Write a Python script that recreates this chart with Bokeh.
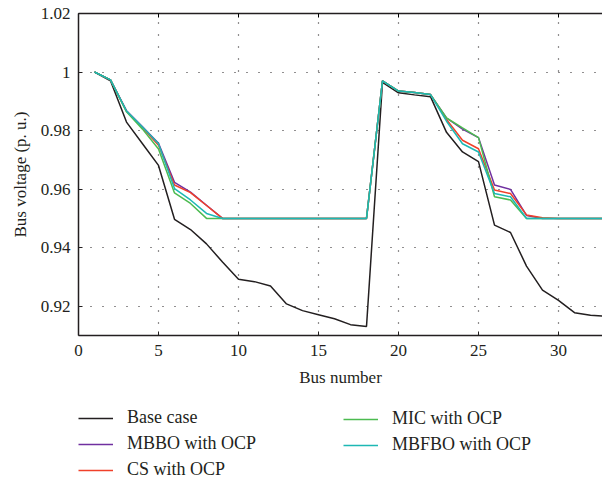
from bokeh.plotting import figure
from bokeh.models import (Range1d, FixedTicker, LinearAxis, Legend, LegendItem)
from bokeh.layouts import column
from bokeh.embed import file_html
from bokeh.resources import INLINE

bus = list(range(1, 34))

base_case = [1.0000, 0.9970, 0.9829, 0.9755, 0.9681, 0.9497, 0.9462, 0.9413, 0.9351,
             0.9292, 0.9284, 0.9269, 0.9208, 0.9185, 0.9171, 0.9157, 0.9137, 0.9131,
             0.9965, 0.9929, 0.9922, 0.9916, 0.9794, 0.9727, 0.9694, 0.9477, 0.9452,
             0.9337, 0.9255, 0.9220, 0.9178, 0.9169, 0.9166]
mbbo = [1.0000, 0.9973, 0.9868, 0.9813, 0.9757, 0.9623, 0.9590, 0.9545, 0.9500,
        0.9500, 0.9500, 0.9500, 0.9500, 0.9500, 0.9500, 0.9500, 0.9500, 0.9500,
        0.9970, 0.9935, 0.9930, 0.9923, 0.9843, 0.9805, 0.9776, 0.9614, 0.9599,
        0.9510, 0.9500, 0.9500, 0.9500, 0.9500, 0.9500]
cs = [1.0000, 0.9973, 0.9866, 0.9810, 0.9750, 0.9614, 0.9588, 0.9544, 0.9500,
      0.9500, 0.9500, 0.9500, 0.9500, 0.9500, 0.9500, 0.9500, 0.9500, 0.9500,
      0.9970, 0.9935, 0.9930, 0.9923, 0.9838, 0.9767, 0.9738, 0.9597, 0.9585,
      0.9512, 0.9502, 0.9500, 0.9500, 0.9500, 0.9500]
mic = [1.0000, 0.9973, 0.9864, 0.9805, 0.9737, 0.9587, 0.9551, 0.9500, 0.9500,
       0.9500, 0.9500, 0.9500, 0.9500, 0.9500, 0.9500, 0.9500, 0.9500, 0.9500,
       0.9970, 0.9935, 0.9930, 0.9923, 0.9843, 0.9809, 0.9776, 0.9574, 0.9563,
       0.9500, 0.9500, 0.9500, 0.9500, 0.9500, 0.9500]
mbfbo = [1.0000, 0.9973, 0.9867, 0.9812, 0.9755, 0.9602, 0.9563, 0.9517, 0.9500,
         0.9500, 0.9500, 0.9500, 0.9500, 0.9500, 0.9500, 0.9500, 0.9500, 0.9500,
         0.9970, 0.9935, 0.9930, 0.9923, 0.9832, 0.9755, 0.9727, 0.9585, 0.9574,
         0.9500, 0.9500, 0.9500, 0.9500, 0.9500, 0.9500]

series_names = ["Base case", "MBBO with OCP", "CS with OCP", "MIC with OCP", "MBFBO with OCP"]
series_values = [base_case, mbbo, cs, mic, mbfbo]
series_colors = ["#231f20", "#7030a0", "#f0402a", "#4cbb50", "#1db8b4"]

x_ticks = [0, 5, 10, 15, 20, 25, 30]
y_ticks = [0.92, 0.94, 0.96, 0.98, 1.0, 1.02]
y_tick_labels = {0.92: "0.92", 0.94: "0.94", 0.96: "0.96", 0.98: "0.98", 1.0: "1", 1.02: "1.02"}

FONT = "Liberation Serif"
LEG_FONT = "'Liberation Serif', 'Times New Roman', serif"
TXT = "#231f20"

p = figure(width=602, height=405, output_backend="svg", toolbar_location=None,
           x_range=Range1d(0, 32.75), y_range=Range1d(0.91, 1.02),
           min_border_left=78, min_border_right=0, min_border_top=13, min_border_bottom=70)
p.outline_line_color = None
p.background_fill_color = "white"
p.border_fill_color = "white"

for name, vals, col in zip(series_names, series_values, series_colors):
    p.line(bus, vals, line_color=col, line_width=1.5)

for ax in (p.xaxis[0], p.yaxis[0]):
    ax.axis_line_color = "#231f20"
    ax.axis_line_width = 1.5
    ax.major_tick_in = 4
    ax.major_tick_out = 0
    ax.minor_tick_line_color = None
    ax.major_tick_line_color = "#231f20"
    ax.major_label_text_font = FONT
    ax.major_label_text_font_size = "17px"
    ax.major_label_text_color = TXT
    ax.axis_label_text_font = FONT
    ax.axis_label_text_font_size = "17px"
    ax.axis_label_text_font_style = "normal"
    ax.axis_label_text_color = TXT

p.xaxis[0].ticker = FixedTicker(ticks=x_ticks)
p.yaxis[0].ticker = FixedTicker(ticks=y_ticks)
p.yaxis[0].major_label_overrides = y_tick_labels
p.xaxis[0].axis_label = "Bus number"
p.yaxis[0].axis_label = "Bus voltage (p. u.)"
p.xaxis[0].major_label_standoff = 9
p.yaxis[0].major_label_standoff = 8
p.xaxis[0].axis_label_standoff = 9
p.yaxis[0].axis_label_standoff = 8

top = LinearAxis(ticker=FixedTicker(ticks=x_ticks))
top.axis_line_color = "#231f20"
top.axis_line_width = 1.5
top.major_tick_in = 4
top.major_tick_out = 0
top.minor_tick_line_color = None
top.major_label_overrides = {t: "" for t in x_ticks}
top.major_label_standoff = 0
p.add_layout(top, "above")

for g in (p.xgrid[0], p.ygrid[0]):
    g.grid_line_color = "#231f20"
    g.grid_line_dash = "1 11"
    g.grid_line_width = 1.2
p.xgrid[0].ticker = FixedTicker(ticks=x_ticks)
p.ygrid[0].ticker = FixedTicker(ticks=y_ticks)

# legend panel: same series, plotted out of view so only their legend entries show
leg = figure(width=602, height=76, output_backend="svg", toolbar_location=None,
             x_range=Range1d(100, 101), y_range=Range1d(0, 1),
             min_border=0, x_axis_type=None, y_axis_type=None)
leg.outline_line_color = None
leg.xgrid.visible = False
leg.ygrid.visible = False
leg_renderers = [leg.line(bus, vals, line_color=col, line_width=1.5)
                 for vals, col in zip(series_values, series_colors)]

def make_legend(idx, x, y):
    lg = Legend(items=[LegendItem(label=series_names[i], renderers=[leg_renderers[i]]) for i in idx],
                location=(x, y), orientation="vertical")
    lg.background_fill_alpha = 0
    lg.border_line_color = None
    lg.padding = 0
    lg.margin = 0
    lg.spacing = 5
    lg.glyph_width = 35
    lg.glyph_height = 20
    lg.label_height = 20
    lg.label_standoff = 14
    lg.label_text_font = LEG_FONT
    lg.label_text_font_size = "18px"
    lg.label_text_font_style = "normal"
    lg.label_text_color = TXT
    return lg

leg.add_layout(make_legend([0, 1, 2], 0, 1))
leg.add_layout(make_legend([3, 4], 265, 26))

layout = column(p, leg, spacing=0)
open("out.html", "w").write(file_html(layout, INLINE))
